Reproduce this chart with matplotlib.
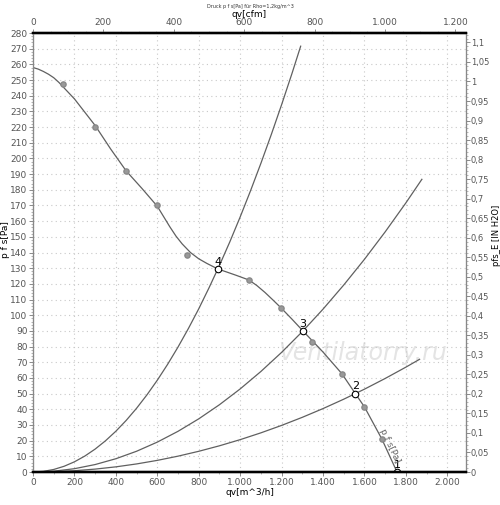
import numpy as np
import matplotlib
matplotlib.use("Agg")
import matplotlib.pyplot as plt
from matplotlib.ticker import MultipleLocator, FuncFormatter

# fan curve (line), qv [m^3/h] vs p f s [Pa]
fan_q = [0, 25, 50, 75, 100, 125, 150, 200, 250, 300, 375, 450, 525, 600, 630, 660, 690,
         720, 760, 800, 840, 870, 892, 930, 980, 1042, 1080, 1120, 1160, 1198, 1250, 1303,
         1400, 1491, 1556, 1600, 1684, 1757]
fan_p = [258, 257, 255.5, 253.7, 251.5, 248.5, 245, 238, 229.5, 221, 206, 192, 181, 169.5,
         163, 156.5, 150.5, 145.5, 140, 136, 133, 131, 129.5, 127.8, 125.5, 122.5, 119,
         114.5, 109.5, 104.6, 97.5, 90, 76.5, 62.7, 50, 41.5, 21, 0]

# measured points (grey dots)
meas_q = [146, 300, 449, 599, 744, 1042, 1198, 1349, 1491, 1596, 1684]
meas_p = [247.5, 220, 191.8, 170, 138.4, 122.4, 104.6, 83, 62.7, 41.7, 21]

# system curves
sysA_q = [0, 50, 100, 150, 200, 250, 300, 350, 400, 450, 500, 550, 600, 650, 700, 750,
          800, 850, 900, 950, 1000, 1050, 1100, 1150, 1200, 1250, 1292]
sysA_p = [0, 0.41, 1.63, 3.66, 6.51, 10.17, 14.64, 19.93, 26.03, 32.95, 40.68, 49.22,
          58.57, 68.74, 79.72, 91.52, 104.1, 117.6, 131.8, 146.8, 162.7, 179.4, 196.9,
          215.2, 234.3, 254.2, 271.6]
sysB_q = [0, 100, 200, 300, 400, 500, 600, 700, 800, 900, 1000, 1100, 1200, 1300, 1400,
          1500, 1600, 1700, 1800, 1877]
sysB_p = [0, 0.53, 2.12, 4.77, 8.48, 13.25, 19.08, 25.97, 33.92, 42.93, 53, 64.13, 76.32,
          89.57, 103.9, 119.3, 135.7, 153.2, 171.7, 186.7]
sysC_q = [0, 100, 200, 300, 400, 500, 600, 700, 800, 900, 1000, 1100, 1200, 1300, 1400,
          1500, 1600, 1700, 1800, 1866]
sysC_p = [0, 0.21, 0.83, 1.86, 3.30, 5.16, 7.43, 10.12, 13.22, 16.73, 20.65, 24.99, 29.74,
          34.90, 40.47, 46.46, 52.86, 59.68, 66.91, 71.9]

# operating points
op_labels = ["4", "3", "2", "1"]
op_q = [892, 1303, 1556, 1757]
op_p = [129.5, 90, 50, 0]

XMAX = 2090
YMAX = 280
PA_PER_INH2O = 249.089
M3H_PER_CFM = 1.699

tick_col = "#555555"
fs = 6.5

fig = plt.figure(figsize=(5, 5.05), dpi=100)
ax = fig.add_axes([0.066, 0.0653, 0.866, 0.8693])

ax.set_xlim(0, XMAX)
ax.set_ylim(0, YMAX)

ax.xaxis.set_major_locator(MultipleLocator(200))
ax.xaxis.set_minor_locator(MultipleLocator(100))
ax.yaxis.set_major_locator(MultipleLocator(10))
ax.yaxis.set_minor_locator(MultipleLocator(2))
ax.grid(True, which="major", color="#c8c8c8", linestyle=(0, (1, 3)), linewidth=0.8)

thousands = FuncFormatter(lambda v, p: f"{int(v):,}".replace(",", "."))
ax.xaxis.set_major_formatter(thousands)

# watermark
ax.text(1590, 76, "Ventilatorry.ru", fontsize=17, style="italic", color="#e4e4e4",
        ha="center", va="center", zorder=1)

line_kw = dict(color="#606060", lw=0.9, solid_joinstyle="round")
ax.plot(sysA_q, sysA_p, zorder=2, **line_kw)
ax.plot(sysB_q, sysB_p, zorder=2, **line_kw)
ax.plot(sysC_q, sysC_p, zorder=2, **line_kw)
ax.plot(fan_q, fan_p, zorder=3, **line_kw)
ax.scatter(meas_q, meas_p, s=14, color="#999999", edgecolors="#888888", zorder=4)
ax.scatter(op_q, op_p, s=22, facecolors="white", edgecolors="black", linewidths=0.8, zorder=5)
for lab, q, p in zip(op_labels, op_q, op_p):
    ax.text(q, p + 1.5, lab, fontsize=8, ha="center", va="bottom", color="black", zorder=6)

ax.text(1722, 17, "p f s[Pa]", fontsize=6.5, color="#666666", rotation=-65,
        ha="center", va="center", zorder=6)

ax.set_xlabel("qv[m^3/h]", fontsize=fs, labelpad=1)
ax.set_ylabel("p f s[Pa]", fontsize=fs)
ax.yaxis.set_label_coords(-0.053, 0.53)
ax.tick_params(axis="both", which="major", labelsize=fs, labelcolor=tick_col, length=3,
               width=0.6, color="#777777", pad=1)
ax.tick_params(axis="both", which="minor", length=1.5, width=0.5, color="#999999")

# right axis in inch H2O
axr = ax.twinx()
axr.set_ylim(0, YMAX / PA_PER_INH2O)
axr.yaxis.set_major_locator(MultipleLocator(0.05))
axr.yaxis.set_minor_locator(MultipleLocator(0.01))
axr.yaxis.set_major_formatter(FuncFormatter(lambda v, p: f"{v:.2f}".rstrip("0").rstrip(".").replace(".", ",")))
axr.set_ylabel("pfs_E [IN H2O]", fontsize=6)
axr.yaxis.set_label_coords(1.059, 0.54)
axr.tick_params(axis="y", which="major", labelsize=6, labelcolor=tick_col, length=3,
                width=0.6, color="#777777", pad=0.5)
axr.tick_params(axis="y", which="minor", length=1.5, width=0.5, color="#999999")

# top axis in cfm
axt = ax.twiny()
axt.set_xlim(0, XMAX / M3H_PER_CFM)
axt.xaxis.set_major_locator(MultipleLocator(200))
axt.xaxis.set_minor_locator(MultipleLocator(50))
axt.xaxis.set_major_formatter(thousands)
axt.set_xlabel("qv[cfm]", fontsize=fs, labelpad=1)
axt.tick_params(axis="x", which="major", labelsize=fs, labelcolor=tick_col, length=3,
                width=0.6, color="#777777", pad=1)
axt.tick_params(axis="x", which="minor", length=1.5, width=0.5, color="#999999")

for a in (ax, axr, axt):
    a.spines["top"].set_linewidth(1.6)
    a.spines["bottom"].set_linewidth(1.6)
    a.spines["left"].set_color("#888888")
    a.spines["right"].set_color("#888888")
    a.spines["left"].set_linewidth(0.8)
    a.spines["right"].set_linewidth(0.8)

fig.text(0.5, 0.988, "Druck p f s[Pa] für Rho=1,2kg/m^3", fontsize=3.5, ha="center",
         va="center", color="#333333")

fig.savefig("out.png", dpi=100)
